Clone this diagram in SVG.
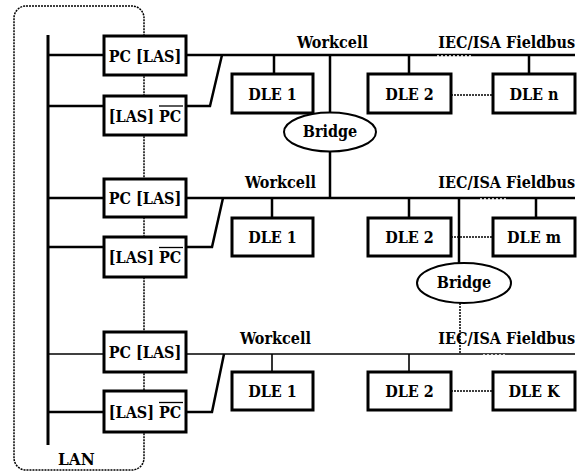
<svg xmlns="http://www.w3.org/2000/svg" width="579" height="474" viewBox="0 0 579 474">
<style>
text{font-family:'DejaVu Serif',serif;font-stretch:condensed;font-weight:bold;font-size:16px;fill:#000}
.box{fill:#fff;stroke:#000;stroke-width:3}
.ln{stroke:#000;stroke-width:2.5;fill:none}
.thin{stroke:#000;stroke-width:1.6;fill:none}
.dot{stroke:#000;stroke-width:1.5;stroke-dasharray:2 1;fill:none}
.gap{stroke:#fff;stroke-width:1.4;stroke-dasharray:2 2;fill:none}
.bar{stroke:#000;stroke-width:1.3}
.mid{text-anchor:middle}
</style>
<rect id="lan" x="14" y="6" width="130" height="464" rx="12" ry="12" class="dot"/>
<g id="connectors">
<line x1="48" y1="35" x2="48" y2="445" stroke="#000" stroke-width="3"/>
<line class="ln" x1="48" y1="55" x2="104" y2="55"/>
<line class="ln" x1="48" y1="106" x2="104" y2="106"/>
<line class="ln" x1="48" y1="198" x2="104" y2="198"/>
<line class="ln" x1="48" y1="247" x2="104" y2="247"/>
<line class="thin" x1="48" y1="354" x2="104" y2="354"/>
<line class="ln" x1="48" y1="412" x2="104" y2="412"/>
<line class="ln" x1="186" y1="55" x2="575" y2="55"/>
<line class="ln" x1="186" y1="198" x2="575" y2="198"/>
<line class="thin" x1="186" y1="354" x2="575" y2="354"/>
<line class="gap" x1="437" y1="56" x2="473" y2="56"/>
<line class="gap" x1="480" y1="199" x2="507" y2="199"/>
<line class="gap" x1="483" y1="355" x2="505" y2="355"/>
<polyline class="ln" points="186,106 210,106 222,55"/>
<polyline class="ln" points="186,247 212,247 223,198"/>
<polyline class="ln" points="186,412 212,412 224,354"/>
<line class="ln" x1="274" y1="55" x2="274" y2="74"/>
<line class="ln" x1="409" y1="55" x2="409" y2="74"/>
<line class="ln" x1="529" y1="55" x2="529" y2="74"/>
<line class="ln" x1="330" y1="55" x2="330" y2="113"/>
<line class="ln" x1="330" y1="152" x2="330" y2="198"/>
<line class="ln" x1="272" y1="198" x2="272" y2="218"/>
<line class="ln" x1="409" y1="198" x2="409" y2="218"/>
<line class="ln" x1="536" y1="198" x2="536" y2="218"/>
<line class="dot" x1="451" y1="95" x2="493" y2="95"/>
<line class="dot" x1="451" y1="237" x2="493" y2="237"/>
<line class="ln" x1="459" y1="198" x2="459" y2="263"/>
<line class="dot" x1="460" y1="303" x2="460" y2="354"/>
<line class="thin" x1="272" y1="354" x2="272" y2="372"/>
<line class="thin" x1="409" y1="354" x2="409" y2="372"/>
<line class="dot" x1="451" y1="391" x2="493" y2="391"/>
</g>
<g id="pc1"><rect class="box" x="104" y="36" width="82" height="39"/><text class="mid" x="145" y="61.5">PC [LAS]</text></g>
<g id="pcb1"><rect class="box" x="104" y="96" width="82" height="39"/><text class="mid" x="145" y="121.5">[LAS] PC</text><line class="bar" x1="159" y1="106" x2="183" y2="106"/></g>
<g id="pc2"><rect class="box" x="104" y="179" width="82" height="38"/><text class="mid" x="145" y="204">PC [LAS]</text></g>
<g id="pcb2"><rect class="box" x="104" y="237" width="82" height="40"/><text class="mid" x="145" y="263">[LAS] PC</text><line class="bar" x1="159" y1="247.5" x2="183" y2="247.5"/></g>
<g id="pc3"><rect class="box" x="104" y="332" width="82" height="40"/><text class="mid" x="145" y="358">PC [LAS]</text></g>
<g id="pcb3"><rect class="box" x="104" y="391" width="82" height="41"/><text class="mid" x="145" y="418">[LAS] PC</text><line class="bar" x1="159" y1="402.5" x2="183" y2="402.5"/></g>
<g id="dle11"><rect class="box" x="232" y="74" width="81" height="39"/><text class="mid" x="272.5" y="100">DLE 1</text></g>
<g id="dle12"><rect class="box" x="368" y="74" width="83" height="39"/><text class="mid" x="409.5" y="100">DLE 2</text></g>
<g id="dle1n"><rect class="box" x="493" y="74" width="82" height="39"/><text class="mid" x="534" y="100">DLE n</text></g>
<g id="dle21"><rect class="box" x="232" y="218" width="81" height="38"/><text class="mid" x="272.5" y="243">DLE 1</text></g>
<g id="dle22"><rect class="box" x="368" y="218" width="83" height="38"/><text class="mid" x="409.5" y="243">DLE 2</text></g>
<g id="dle2m"><rect class="box" x="493" y="218" width="82" height="38"/><text class="mid" x="534" y="243">DLE m</text></g>
<g id="dle31"><rect class="box" x="232" y="372" width="81" height="38"/><text class="mid" x="272.5" y="397">DLE 1</text></g>
<g id="dle32"><rect class="box" x="368" y="372" width="83" height="38"/><text class="mid" x="409.5" y="397">DLE 2</text></g>
<g id="dle3k"><rect class="box" x="493" y="372" width="82" height="38"/><text class="mid" x="534" y="397">DLE K</text></g>
<g id="bridge1"><ellipse cx="330" cy="132" rx="46" ry="19.5" fill="#fff" stroke="#000" stroke-width="2"/><text class="mid" x="330" y="137">Bridge</text></g>
<g id="bridge2"><ellipse cx="464" cy="283" rx="47" ry="20" fill="#fff" stroke="#000" stroke-width="2"/><text class="mid" x="464" y="288">Bridge</text></g>
<g id="labels">
<text x="297" y="48">Workcell</text>
<text x="575" y="48" text-anchor="end">IEC/ISA Fieldbus</text>
<text x="245" y="188">Workcell</text>
<text x="575" y="188" text-anchor="end">IEC/ISA Fieldbus</text>
<text x="240" y="344">Workcell</text>
<text x="575" y="344" text-anchor="end">IEC/ISA Fieldbus</text>
<text x="58" y="465" style="font-size:17px">LAN</text>
</g>
</svg>
